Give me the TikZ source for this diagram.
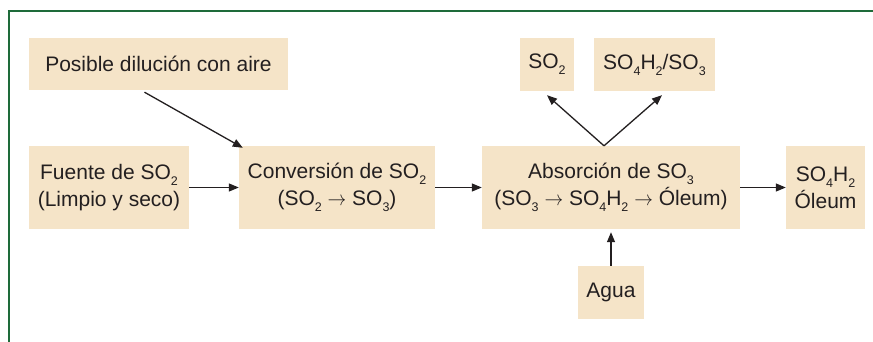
\documentclass[tikz,border=0pt]{standalone}
\usepackage{fontspec}
\setmainfont{Liberation Sans}
\usetikzlibrary{arrows.meta}
\definecolor{boxfill}{HTML}{F5E4C8}
\definecolor{ink}{HTML}{231F20}
\definecolor{frame}{HTML}{1E6B3A}
\newcommand\sbs[1]{\raisebox{-6pt}{\fontsize{12.5}{12.5}\selectfont #1}}
\newcommand\rarr{\scalebox{0.9}[1]{$\rightarrow$}}
\tikzset{
  box/.style={fill=boxfill, draw=none, inner sep=0pt, align=center, text=ink,
    font=\fontsize{21}{27}\selectfont},
  arr/.style={draw=ink, line width=1.3pt, -{Triangle[length=10pt,width=8pt]}}
}
\begin{document}
\begin{tikzpicture}[x=1pt,y=-1pt]
\useasboundingbox[fill=white] (0,0) rectangle (873,342);
\draw[frame, line width=1.8pt] (9,342) -- (9,11) -- (873,11);
\node[box, minimum width=259pt, minimum height=52pt] (pos) at (158.5,64) {Posible dilución con aire};
\node[box, minimum width=160pt, minimum height=83pt] (fue) at (109,187.5) {Fuente de SO\sbs{2}\\(Limpio y seco)};
\node[box, minimum width=196pt, minimum height=83pt] (conv) at (337,187.5) {Conversión de SO\sbs{2}\\(SO\sbs{2} \rarr{} SO\sbs{3})};
\node[box, minimum width=258pt, minimum height=83pt] (abs) at (611,187.5) {Absorción de SO\sbs{3}\\(SO\sbs{3} \rarr{} SO\sbs{4}H\sbs{2} \rarr{} Óleum)};
\node[box, minimum width=79pt, minimum height=83pt] (ole) at (825.5,187.5) {SO\sbs{4}H\sbs{2}\\Óleum};
\node[box, minimum width=54pt, minimum height=53pt] (so2) at (547,64.5) {SO\sbs{2}};
\node[box, minimum width=121pt, minimum height=53pt] (so4) at (654.5,64.5) {SO\sbs{4}H\sbs{2}/SO\sbs{3}};
\node[box, minimum width=66pt, minimum height=53pt] (agua) at (611,292.5) {Agua};
\draw[arr] ([xshift=-14pt,yshift=-2pt]pos.south) -- ([xshift=4pt,yshift=-2pt]conv.north west);
\draw[arr] (fue.east) -- (conv.west);
\draw[arr] (conv.east) -- (abs.west);
\draw[arr] (abs.east) -- (ole.west);
\coordinate (apex) at ([xshift=-7pt]abs.north);
\draw[arr] (apex) -- ([yshift=-4pt]so2.south);
\draw[arr] (apex) -- ([xshift=7.5pt,yshift=-4pt]so4.south);
\draw[arr] (agua.north) -- ([yshift=-3pt]abs.south);
\end{tikzpicture}
\end{document}
